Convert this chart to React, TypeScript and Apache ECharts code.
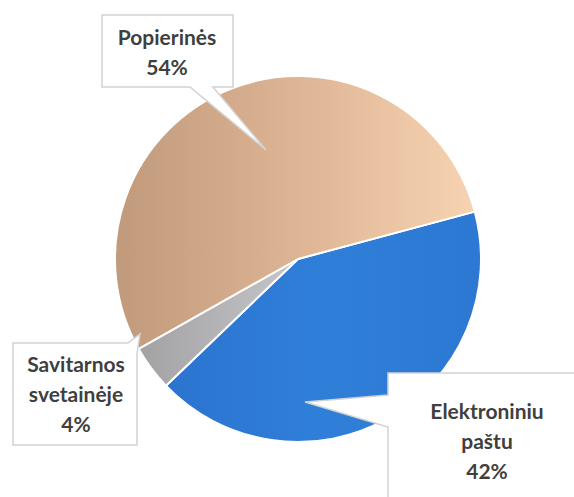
import React, { useEffect, useRef } from "react";
import * as echarts from "echarts";

const categories = ["Elektroniniu\npaštu", "Savitarnos\nsvetainėje", "Popierinės"];
const values = [42, 4, 54];
const labelPositions = [
  [487, 395],
  [76, 348],
  [167, 21],
];

export default function App() {
  const ref = useRef<HTMLDivElement>(null);
  useEffect(() => {
    document.body.style.margin = "0";
    const chart = echarts.init(ref.current!, null, { renderer: "svg" });
    const colors = [
      new echarts.graphic.LinearGradient(0, 0, 1, 0, [
        { offset: 0, color: "#2b74cf" },
        { offset: 0.5, color: "#2f7fd9" },
        { offset: 1, color: "#2c78d2" },
      ]),
      new echarts.graphic.LinearGradient(0, 0, 1, 0, [
        { offset: 0, color: "#a3a1a2" },
        { offset: 1, color: "#c4c6ca" },
      ]),
      new echarts.graphic.LinearGradient(0, 0, 1, 0, [
        { offset: 0, color: "#c09a7b" },
        { offset: 0.5, color: "#ddb494" },
        { offset: 1, color: "#f7d3b1" },
      ]),
    ];
    const stroke = { fill: "#ffffff", stroke: "#d2d2d2", lineWidth: 1.5 };
    const texts = categories.map((c, i) => ({
      type: "text",
      z: 101,
      x: labelPositions[i][0],
      y: labelPositions[i][1],
      style: {
        text: `${c}\n${values[i]}%`,
        align: "center",
        verticalAlign: "top",
        fontFamily: "Lato",
        fontWeight: "bold",
        fontSize: 21,
        lineHeight: 30,
        fill: "#3f3f3f",
      },
    }));
    chart.setOption({
      animation: false,
      backgroundColor: "#ffffff",
      series: [
        {
          type: "pie",
          center: [298, 259],
          radius: 183,
          startAngle: 15,
          clockwise: true,
          silent: true,
          label: { show: false },
          labelLine: { show: false },
          itemStyle: { borderColor: "#ffffff", borderWidth: 2 },
          data: categories.map((c, i) => ({
            name: c,
            value: values[i],
            itemStyle: { color: colors[i] },
          })),
        },
      ],
      graphic: [
        {
          type: "polygon",
          z: 100,
          shape: {
            points: [
              [102, 15], [233, 15], [233, 87], [213, 87], [266, 150], [190, 87], [102, 87],
            ],
          },
          style: stroke,
        },
        {
          type: "polygon",
          z: 100,
          shape: {
            points: [
              [388, 373], [580, 373], [580, 505], [388, 505], [388, 427], [305, 402], [388, 395],
            ],
          },
          style: stroke,
        },
        {
          type: "polygon",
          z: 100,
          shape: {
            points: [
              [13, 343], [128, 343], [140, 334], [137, 354], [137, 445], [13, 445],
            ],
          },
          style: stroke,
        },
        ...texts,
      ],
    });
    return () => chart.dispose();
  }, []);
  return <div ref={ref} style={{ width: 574, height: 497 }} />;
}
